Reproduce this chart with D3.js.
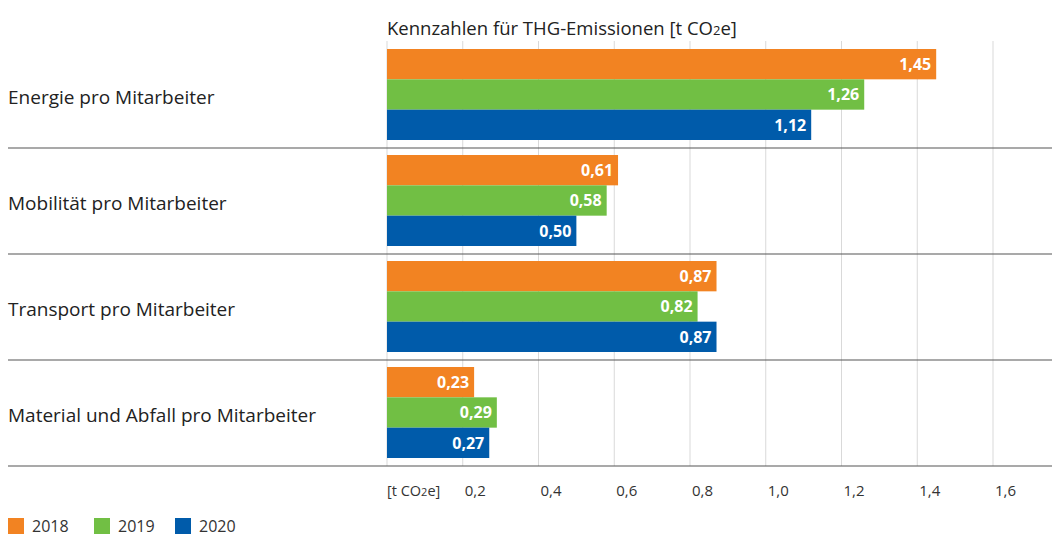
<!DOCTYPE html>
<html><head><meta charset="utf-8">
<script src="https://cdn.jsdelivr.net/npm/d3@7"></script>
<style>body{margin:0;background:#fff}svg{display:block}text{font-family:"Open Sans",sans-serif}</style>
</head><body><svg id="c" width="1052" height="536"></svg>
<script>
const categories = ["Energie pro Mitarbeiter","Mobilität pro Mitarbeiter","Transport pro Mitarbeiter","Material und Abfall pro Mitarbeiter"];
const series = ["2018","2019","2020"];
const values2018 = [1.45,0.61,0.87,0.23];
const values2019 = [1.26,0.58,0.82,0.29];
const values2020 = [1.12,0.50,0.87,0.27];
const tickValues = [0.2,0.4,0.6,0.8,1.0,1.2,1.4,1.6];
const colors = ["#F28322","#71BF44","#005BAA"];
const allValues = [values2018, values2019, values2020];

const svg = d3.select("#c");
const x = d3.scaleLinear().domain([0,1.6]).range([387,993]);
const y0 = d3.scaleBand().domain(categories).range([42,466]).padding(0);
const y1 = d3.scaleBand().domain(series).range([7,98]).padding(0);
const fmt = v => d3.format(".2f")(v).replace(".",",");
const fmtT = v => d3.format(".1f")(v).replace(".",",");

// gridlines
svg.append("g").selectAll("line").data([0].concat(tickValues)).join("line")
  .attr("x1",d=>x(d)).attr("x2",d=>x(d)).attr("y1",41).attr("y2",466)
  .attr("stroke","#d9d9d9").attr("stroke-width",1);

// separators
svg.append("g").selectAll("line").data(categories).join("line")
  .attr("x1",8).attr("x2",1052).attr("y1",d=>y0(d)+y0.bandwidth()).attr("y2",d=>y0(d)+y0.bandwidth())
  .attr("stroke","#555").attr("stroke-width",1.2);

// bars
const g = svg.append("g").selectAll("g").data(categories).join("g")
  .attr("transform",d=>`translate(0,${y0(d)})`);
g.each(function(cat,ci){
  const gg = d3.select(this);
  series.forEach((s,si)=>{
    const v = allValues[si][ci];
    gg.append("rect").attr("x",x(0)).attr("y",y1(s)).attr("width",x(v)-x(0)).attr("height",y1.bandwidth()).attr("fill",colors[si]);
    gg.append("text").attr("x",x(v)-5).attr("y",y1(s)+y1.bandwidth()/2).attr("dy","0.37em")
      .attr("text-anchor","end").attr("fill","#fff").attr("font-weight","bold").attr("font-size",16).text(fmt(v));
  });
  gg.append("text").attr("x",8).attr("y",y0.bandwidth()/2+9)
    .attr("font-size",19).attr("fill","#222").text(cat);
});

// title
const t = svg.append("text").attr("x",387).attr("y",35).attr("font-size",18.5).attr("fill","#222");
t.append("tspan").text("Kennzahlen für THG-Emissionen [t CO");
t.append("tspan").attr("font-size",13).text("2");
t.append("tspan").text("e]");

// axis ticks
const ax = svg.append("g");
ax.selectAll("text").data(tickValues).join("text")
  .attr("x",d=>x(d)+2).attr("y",496).attr("font-size",15).attr("fill","#333").text(fmtT);
const u = ax.append("text").attr("x",387).attr("y",496).attr("font-size",14.5).attr("fill","#333");
u.append("tspan").text("[t CO");
u.append("tspan").attr("font-size",11).text("2");
u.append("tspan").text("e]");

// legend
const lg = svg.append("g").selectAll("g").data(series).join("g")
  .attr("transform",(d,i)=>`translate(${[8,94,175][i]},518)`);
lg.append("rect").attr("width",16).attr("height",16).attr("fill",(d,i)=>colors[i]);
lg.append("text").attr("x",24).attr("y",8).attr("dy","0.36em").attr("font-size",16).attr("fill","#333").text(d=>d);
</script></body></html>
